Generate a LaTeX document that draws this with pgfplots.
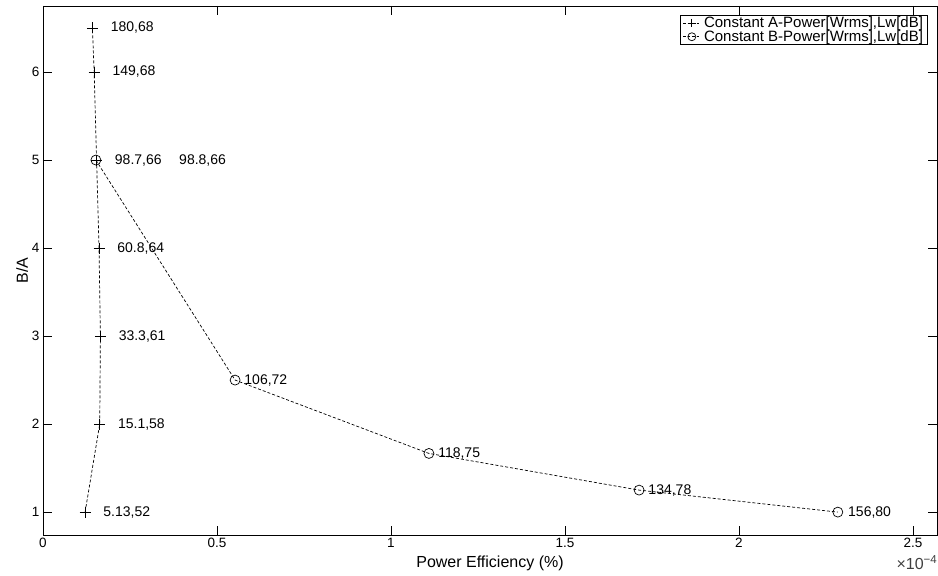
\documentclass[border=0pt]{standalone}
\usepackage{pgfplots}
\pgfplotsset{compat=1.18}
\usepackage{fontspec}
\setmainfont{Liberation Sans}
\newcommand{\ft}{\fontsize{13.5}{15}\selectfont}
\newcommand{\fl}{\fontsize{16}{18}\selectfont}
\newcommand{\fp}{\fontsize{14}{16}\selectfont}
\newcommand{\fg}{\fontsize{15}{16}\selectfont}
\begin{document}
\begin{tikzpicture}
\begin{axis}[
  scale only axis, width=894pt, height=529pt,
  xmin=0, xmax=2.569, ymin=0.74, ymax=6.75,
  xtick={0,0.5,1,1.5,2,2.5}, ytick={1,2,3,4,5,6},
  tick align=inside, major tick length=9pt,
  clip=false,
  axis line style={line width=0.8pt}, tick style={line width=0.8pt, black},
  /pgf/number format/assume math mode=true,
  tick label style={font=\ft},
  label style={font=\fl},
  xlabel={Power Efficiency (\%)}, ylabel={B/A},
  xlabel style={yshift=-1pt}, ylabel style={yshift=-3pt},
  legend style={at={(0.989,0.983)}, anchor=north east, draw=black, font=\fg,
    inner xsep=2pt, inner ysep=1pt, row sep=0.5pt, nodes={inner ysep=0.5pt}, cells={anchor=west}},
  legend image code/.code={
    \draw[#1, mark=none, dash pattern=on 2.5pt off 2pt] (0cm,0cm) -- (0.62cm,0cm);
    \draw[#1, mark size=4pt, only marks] plot coordinates {(0.31cm,0cm)};},
]
\addplot[black, line width=0.7pt, dash pattern=on 3pt off 2pt, mark=+, mark size=5.5pt, mark options={solid},
  nodes near coords, point meta=explicit symbolic,
  every node near coord/.style={anchor=west, inner sep=0pt, xshift=18pt, font=\fp, text=black}]
  table[meta=label] {
x y label
0.121 1 5.13,52
0.163 2 15.1,58
0.165 3 33.3,61
0.161 4 60.8,64
0.154 5 98.7,66
0.147 6 149,68
0.142 6.5 180,68
};
\addlegendentry{\hspace{1pt}Constant A-Power[Wrms],Lw[dB]}
\addplot[black, line width=0.7pt, dash pattern=on 3pt off 2pt, mark=o, mark size=5pt, mark options={solid},
  nodes near coords, point meta=explicit symbolic,
  visualization depends on={\thisrow{s} \as \myshift},
  every node near coord/.style={anchor=west, inner sep=0pt, xshift=\myshift pt, font=\fp, text=black}]
  table[meta=label] {
x y label s
0.152 5 98.8,66 83
0.552 2.5 106,72 9
1.109 1.6667 118,75 9
1.713 1.25 134,78 9
2.284 1 156,80 10
};
\addlegendentry{\hspace{1pt}Constant B-Power[Wrms],Lw[dB]}
\node[anchor=north east, inner sep=0pt, text=black!75] at (rel axis cs:1,0) [yshift=-20pt, xshift=0pt] {{\fontsize{16}{18}\selectfont ×10}{\fontsize{11.5}{13}\selectfont\raisebox{6pt}{−4}}};
\end{axis}
\pgfresetboundingbox
\path ([xshift=-43pt,yshift=-40pt]current axis.south west) rectangle ([xshift=1pt,yshift=6pt]current axis.north east);
\end{tikzpicture}
\end{document}
